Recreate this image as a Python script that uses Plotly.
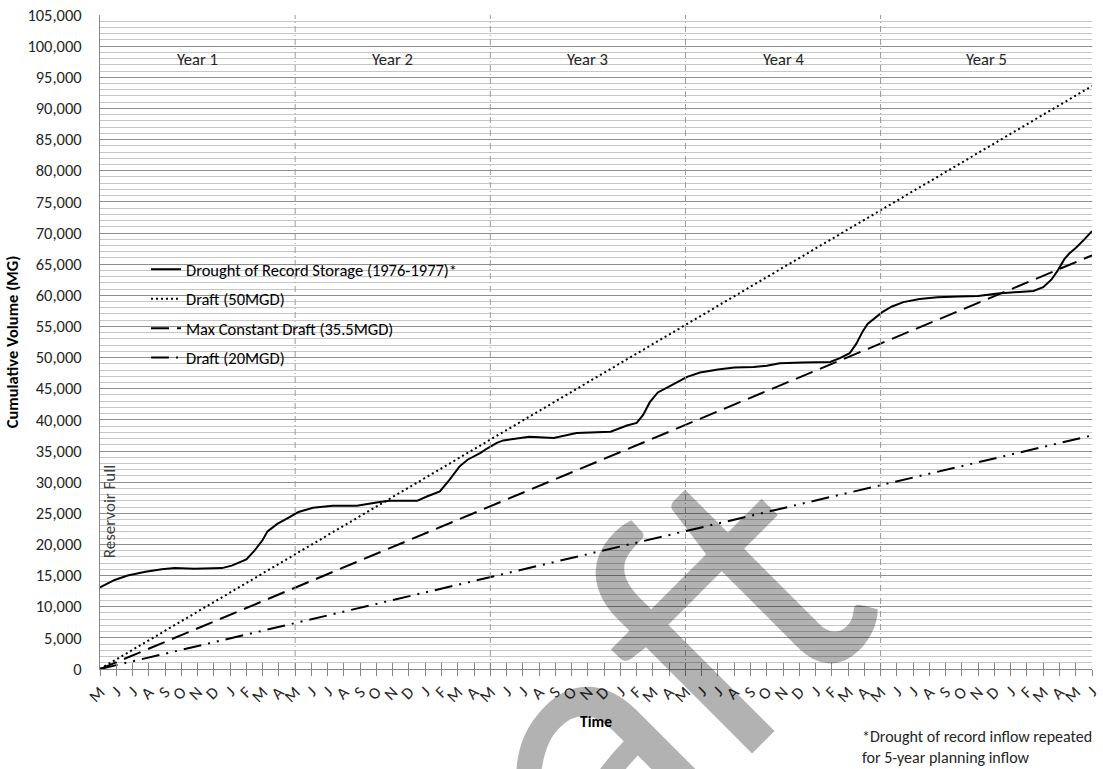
import plotly.graph_objects as go

# ---- data -------------------------------------------------------------
month_labels = ["M", "J", "J", "A", "S", "O", "N", "D", "J", "F", "M", "A"] * 5 + ["M", "J"]
month_index = list(range(len(month_labels)))

year_labels = ["Year 1", "Year 2", "Year 3", "Year 4", "Year 5"]
year_label_month = [6, 18, 30, 42, 54.5]
year_label_mg = 98000
year_divider_month = [12, 24, 36, 48]

# Cumulative storage under the repeated drought-of-record inflow
storage_month = [
    0, 0.5, 0.9, 1.7, 2.8, 3.8, 4.6, 5.8, 7.5, 8.1, 9.0, 9.5, 10.0, 10.3, 10.9, 11.6, 12.2,
    13.1, 14.3, 15.8, 16.4, 17.2, 17.8, 19.5, 20.1, 20.9, 21.5, 22.1, 22.6, 23.4, 23.8, 24.4,
    24.8, 26.4, 27.9, 29.3, 31.4, 32.4, 33.0, 33.4, 33.8, 34.3, 35.1, 36.1, 36.9,
    38.0, 39.0, 40.2, 41.0, 41.8, 43.2, 44.9, 45.5, 46.1, 46.5, 46.9, 47.2, 47.6, 48.1, 48.7,
    49.4, 50.4, 51.5, 52.8, 54.0, 55.2, 56.5, 57.4, 58.0, 58.5, 58.9, 59.3, 59.6, 60.0, 60.5, 61.0,
]
storage_mg = [
    13100, 13800, 14300, 15000, 15600, 16000, 16200, 16100, 16200, 16600, 17600, 19000, 20700, 22100, 23300, 24300, 25200,
    25900, 26200, 26200, 26500, 26800, 27000, 27000, 27700, 28500, 30400, 32500, 33600, 34700, 35400, 36300,
    36700, 37300, 37100, 37900, 38100, 39100, 39500, 40800, 42800, 44400, 45500, 46900, 47600,
    48100, 48400, 48500, 48700, 49100, 49200, 49300, 49900, 50700, 52200, 54200, 55400, 56300, 57300, 58200,
    58900, 59400, 59700, 59800, 59900, 60300, 60500, 60700, 61300, 62500, 64000, 65800, 66700, 67600, 68900, 70300,
]

# Constant-rate drafts (start and end of the 5-year period)
draft_month = [0, 61]
draft_50_mg = [0, 93600]
draft_355_mg = [0, 66400]
draft_20_mg = [0, 37500]

y_max = 105000
note_text = "*Drought of record inflow repeated<br>for 5-year planning inflow"

# ---- styling ----------------------------------------------------------
FONT = "Carlito, Calibri, Lato, sans-serif"
TXT = "#262626"
AXIS = "#868686"
FS = 16.5

fig = go.Figure()

series = [
    ("Drought of Record Storage (1976-1977)*", storage_month, storage_mg, "solid"),
    ("Draft (50MGD)", draft_month, draft_50_mg, "2px,3px"),
    ("Max Constant Draft (35.5MGD)", draft_month, draft_355_mg, "18px,8px"),
    ("Draft (20MGD)", draft_month, draft_20_mg, "18px,7px,2px,7px,2px,7px"),
]
for i, (name, xs, ys, dash) in enumerate(series):
    fig.add_trace(go.Scatter(
        x=xs, y=ys, name=name, mode="lines",
        line=dict(color="black", width=2, dash=dash),
        legendgroup=f"g{i}", hoverinfo="skip",
    ))

# Year divider lines, drawn on an overlaid copy of the time axis
div_x, div_y = [], []
for m in year_divider_month:
    div_x += [m, m, None]
    div_y += [0, y_max, None]
fig.add_trace(go.Scatter(
    x=div_x, y=div_y, xaxis="x2", mode="lines", showlegend=False, hoverinfo="skip",
    line=dict(color="#9a9a9a", width=1, dash="6px,3px,1px,3px"),
))

# Year labels
for lab, m in zip(year_labels, year_label_month):
    fig.add_annotation(x=m, y=year_label_mg, xref="x", yref="y", text=lab, showarrow=False,
                       font=dict(family=FONT, size=FS, color=TXT))

fig.add_annotation(x=0.6, y=25300, xref="x", yref="y", text="Reservoir Full", textangle=-90,
                   showarrow=False, font=dict(family=FONT, size=17, color="#404040"))

fig.add_annotation(x=(860 - 100) / 992, y=(669 - 725) / 654, xref="paper", yref="paper",
                   xanchor="left", yanchor="top", align="left", text=note_text, showarrow=False,
                   font=dict(family=FONT, size=16, color=TXT))

# Watermark
fig.add_annotation(x=(536 - 100) / 992, y=(669 - 790) / 654, xref="paper", yref="paper",
                   xanchor="center", yanchor="middle", text="Draft", textangle=-45,
                   showarrow=False,
                   font=dict(family=FONT, size=370, color="rgba(0,0,0,0.30)"))

# White panel behind the legend (above gridlines, below traces)
fig.add_shape(type="rect", xref="paper", yref="paper",
              x0=(130 - 100) / 992, x1=(468 - 100) / 992,
              y0=(669 - 380) / 654, y1=(669 - 255) / 654,
              fillcolor="white", line=dict(width=0), layer="between")

fig.update_layout(
    width=1103, height=769,
    margin=dict(l=100, r=11, t=15, b=100),
    paper_bgcolor="white", plot_bgcolor="white",
    font=dict(family=FONT, size=FS, color=TXT),
    showlegend=True,
    legend=dict(
        x=(146 - 100) / 992, y=(669 - 252) / 654, xanchor="left", yanchor="top",
        bgcolor="rgba(0,0,0,0)", borderwidth=0,
        font=dict(family=FONT, size=FS, color="black"),
        traceorder="grouped", tracegroupgap=5,
    ),
    xaxis=dict(
        range=[0, 61], tickmode="array", tickvals=month_index, ticktext=month_labels,
        tickangle=-45, showgrid=False, zeroline=False, automargin=False,
        showline=True, linecolor=AXIS, linewidth=1,
        ticks="outside", ticklen=6, tickcolor=AXIS,
        tickfont=dict(family=FONT, size=FS, color=TXT),
        title=dict(text="<b>Time</b>", font=dict(family=FONT, size=15.5, color="black"), standoff=10),
    ),
    xaxis2=dict(
        range=[0, 61], overlaying="x", anchor="y", side="bottom", automargin=False,
        tickmode="array", tickvals=month_index, showticklabels=False,
        ticks="inside", ticklen=6, tickcolor=AXIS,
        showgrid=False, zeroline=False, showline=False,
    ),
    yaxis=dict(
        range=[0, y_max], dtick=5000, tick0=0, tickformat=",", automargin=False,
        showgrid=True, gridcolor="#8e8e8e", gridwidth=1,
        minor=dict(dtick=1000, tick0=0, showgrid=True, gridcolor="#c6c6c6", gridwidth=1),
        zeroline=False, showline=True, linecolor=AXIS, linewidth=1,
        ticks="", ticklabelstandoff=14,
        tickfont=dict(family=FONT, size=FS, color=TXT),
        title=dict(text="<b>Cumulative Volume (MG)</b>",
                   font=dict(family=FONT, size=16.5, color="black"), standoff=4),
    ),
)

fig.write_html("out.html")
